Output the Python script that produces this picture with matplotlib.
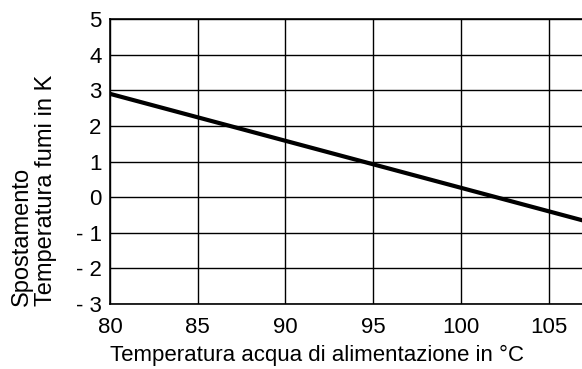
import matplotlib
matplotlib.use("Agg")
import matplotlib.pyplot as plt

plt.rcParams['font.family'] = ['Liberation Sans', 'DejaVu Sans']

# Data
water_temp = [80, 107]
flue_shift = [2.9, -0.66]
x_ticks = [80, 85, 90, 95, 100, 105]
y_ticks = [-3, -2, -1, 0, 1, 2, 3, 4, 5]
y_tick_labels = ['- 3', '- 2', '- 1', '0', '1', '2', '3', '4', '5']

fig = plt.figure(figsize=(5.82, 3.69), dpi=100)
ax = fig.add_axes([0.189, 0.176, 0.811, 0.7725])

ax.plot(water_temp, flue_shift, color='black', linewidth=3.0, solid_capstyle='butt', zorder=3)

ax.set_xlim(80, 106.9)
ax.set_ylim(-3, 5)
ax.set_xticks(x_ticks)
ax.set_yticks(y_ticks)
ax.set_yticklabels(y_tick_labels)
ax.grid(True, color='black', linewidth=1.0)
ax.tick_params(axis='x', length=0, labelsize=16, pad=9)
ax.tick_params(axis='y', length=0, labelsize=16, pad=6)
for s in ['left', 'top', 'bottom']:
    ax.spines[s].set_linewidth(1.2)
ax.spines['right'].set_visible(False)

fig.text(317 / 582, 1 - 355 / 369, 'Temperatura acqua di alimentazione in °C',
         fontsize=16, ha='center', va='center')
fig.text(11 / 582, 1 - 306 / 369, 'Spostamento\nTemperatura fumi in K',
         fontsize=17, rotation=90, ha='left', va='bottom',
         multialignment='left', linespacing=1.1)

fig.savefig('out.png', dpi=100)
